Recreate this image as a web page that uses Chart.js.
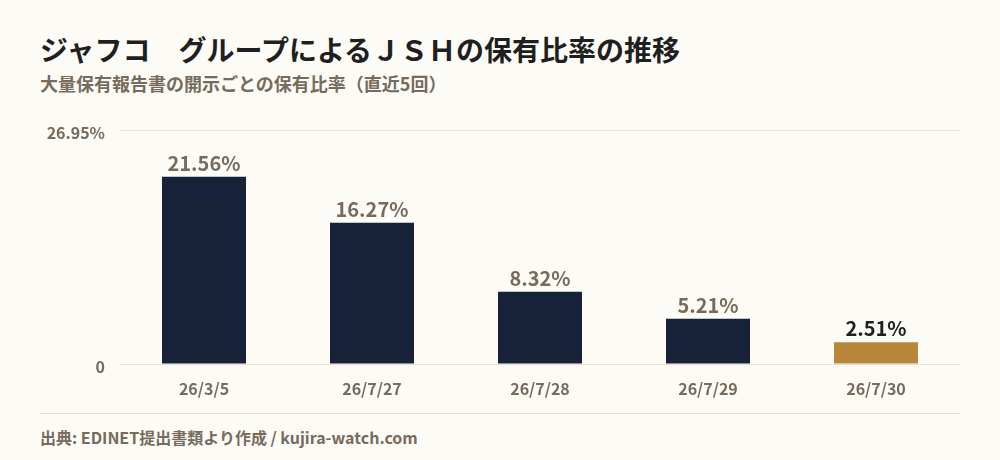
<!DOCTYPE html>
<html lang="ja">
<head>
<meta charset="utf-8">
<script src="https://cdn.jsdelivr.net/npm/chart.js@4.4.1/dist/chart.umd.min.js"></script>
<style>
  html, body { margin: 0; padding: 0; background: #fcfbf6; }
  #wrap { position: relative; width: 1000px; height: 460px; background: #fcfbf6; overflow: hidden;
          font-family: "Noto Sans CJK JP", "Noto Sans", sans-serif; }
  #title { position: absolute; left: 40px; top: 35px; font-size: 28px; line-height: 28px; font-weight: 700; color: #1f1f1f; white-space: nowrap; }
  #subtitle { position: absolute; left: 40px; top: 74px; font-size: 18px; line-height: 18px; font-weight: 700; color: #766b5d; white-space: nowrap; }
  #chartBox { position: absolute; left: 0; top: 100px; width: 1000px; height: 310px; }
  #sep { position: absolute; left: 40px; top: 413px; width: 920px; height: 1px; background: #e6dccb; }
  #footer { position: absolute; left: 40px; top: 429px; font-size: 16px; line-height: 16px; font-weight: 700; color: #766b5d; white-space: nowrap; }
</style>
</head>
<body>
<div id="wrap">
  <div id="title">ジャフコ　グループによるＪＳＨの保有比率の推移</div>
  <div id="subtitle">大量保有報告書の開示ごとの保有比率（直近5回）</div>
  <div id="chartBox"><canvas id="c"></canvas></div>
  <div id="sep"></div>
  <div id="footer">出典: EDINET提出書類より作成 / kujira-watch.com</div>
</div>
<script>
const categories = ["26/3/5", "26/7/27", "26/7/28", "26/7/29", "26/7/30"];
const ratios = [21.56, 16.27, 8.32, 5.21, 2.51];
const yTicks = [0, 26.95];

const FONT = '"Noto Sans CJK JP", "Noto Sans", sans-serif';
const navy = '#172239';
const gold = '#b8863b';
const labelGray = '#766b5d';

const barColors = ratios.map((v, i) => i === ratios.length - 1 ? gold : navy);
const valueColors = ratios.map((v, i) => i === ratios.length - 1 ? '#1f1f1f' : labelGray);

const valueLabels = {
  id: 'valueLabels',
  afterDatasetsDraw(chart) {
    const ctx = chart.ctx;
    const meta = chart.getDatasetMeta(0);
    ctx.save();
    ctx.font = '700 20px ' + FONT;
    ctx.textAlign = 'center';
    ctx.textBaseline = 'alphabetic';
    meta.data.forEach((bar, i) => {
      ctx.fillStyle = valueColors[i];
      ctx.fillText(ratios[i].toFixed(2) + '%', bar.x, bar.y - 6);
    });
    ctx.restore();
  }
};

new Chart(document.getElementById('c'), {
  type: 'bar',
  data: {
    labels: categories,
    datasets: [{
      data: ratios,
      backgroundColor: barColors,
      borderWidth: 0,
      categoryPercentage: 1.0,
      barPercentage: 0.5
    }]
  },
  options: {
    responsive: true,
    maintainAspectRatio: false,
    animation: false,
    layout: { padding: { left: 40, right: 40, top: 30, bottom: 6 } },
    plugins: { legend: { display: false }, tooltip: { enabled: false }, title: { display: false } },
    scales: {
      x: {
        grid: { display: false, drawTicks: false },
        border: { display: false },
        ticks: { color: labelGray, font: { family: FONT, size: 16, weight: '700' }, padding: 15 },
        afterFit(axis) { axis.height = 40; }
      },
      y: {
        min: 0,
        max: yTicks[yTicks.length - 1],
        grid: { color: '#e9e1cf', lineWidth: 1, drawTicks: false },
        border: { display: false },
        afterBuildTicks(axis) { axis.ticks = yTicks.map(v => ({ value: v })); },
        ticks: {
          color: labelGray,
          font: { family: FONT, size: 16, weight: '700', lineHeight: '6px' },
          padding: 15,
          callback: (v) => ['', v === 0 ? '0' : Number(v).toFixed(2) + '%']
        },
        afterFit(axis) { axis.width = 80; }
      }
    }
  },
  plugins: [valueLabels]
});
</script>
</body>
</html>
